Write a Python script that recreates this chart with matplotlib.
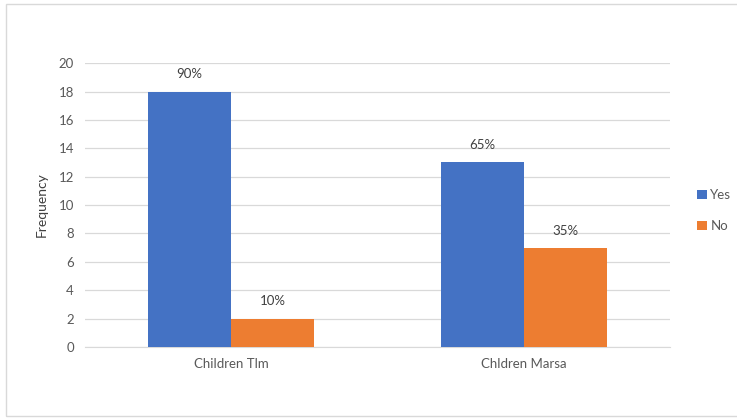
import numpy as np
import matplotlib.pyplot as plt
from matplotlib.patches import Rectangle

categories = ['Children Tlm', 'Chldren Marsa']
yes_values = [18, 13]
no_values = [2, 7]
yes_labels = ['90%', '65%']
no_labels = ['10%', '35%']
y_ticks = [0, 2, 4, 6, 8, 10, 12, 14, 16, 18, 20]

plt.rcParams['font.family'] = ['Lato', 'DejaVu Sans']

fig = plt.figure(figsize=(7.37, 4.18), dpi=100)
fig.patches.append(Rectangle((6 / 737, 2 / 418), 740 / 737, 412 / 418,
                             transform=fig.transFigure, fill=False,
                             edgecolor='#D9D9D9', linewidth=1))
ax = fig.add_axes([0.1153, 0.1699, 0.7937, 0.679])

x = np.arange(len(categories))
w = 0.284
b1 = ax.bar(x - w / 2, yes_values, w, color='#4472C4', label='Yes', zorder=3)
b2 = ax.bar(x + w / 2, no_values, w, color='#ED7D31', label='No', zorder=3)

for bars, labels in [(b1, yes_labels), (b2, no_labels)]:
    for bar, lab in zip(bars, labels):
        ax.annotate(lab, (bar.get_x() + bar.get_width() / 2, bar.get_height()),
                    xytext=(0, 8), textcoords='offset points', ha='center',
                    va='bottom', fontsize=9.5, color='#404040')

ax.set_xlim(-0.5, 1.5)
ax.set_ylim(0, 20)
ax.set_yticks(y_ticks)
ax.set_xticks(x)
ax.set_xticklabels(categories)
ax.tick_params(axis='both', length=0, labelsize=9.5, colors='#595959', pad=8)
ax.grid(axis='y', color='#D9D9D9', linewidth=0.9, zorder=0)
for s in ['top', 'right', 'left']:
    ax.spines[s].set_visible(False)
ax.spines['bottom'].set_color('#D9D9D9')
ax.set_ylabel('Frequency', fontsize=10, color='#404040', labelpad=8)

fig.legend(handles=[b1, b2], loc='center left', bbox_to_anchor=(0.93, 0.496),
           frameon=False, fontsize=9.5, handlelength=0.7, handleheight=0.7,
           handletextpad=0.3, labelspacing=1.45, labelcolor='#595959')

fig.savefig('out.png', dpi=100)
